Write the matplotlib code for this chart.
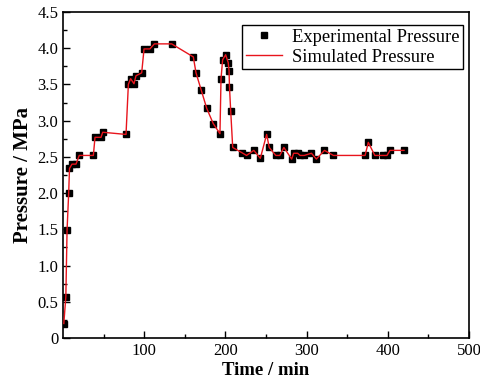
import matplotlib
matplotlib.use("Agg")
import matplotlib.pyplot as plt
from matplotlib.ticker import MultipleLocator, FixedLocator, FuncFormatter

plt.rcParams['font.family'] = ['Liberation Serif', 'DejaVu Serif']

time_min = [1, 3.5, 5, 7, 8, 11, 16, 20, 37.4, 39.4, 46.8, 48.9, 77.6, 80.5, 83.3, 87.4, 89.9,
            96.9, 99.8, 107, 112.5, 133.8, 160.5, 163.8, 170, 177, 185, 193.3, 194.6, 196.6,
            200.3, 203.5, 204.5, 205, 206.5, 209, 220, 226, 235, 243, 250.8, 254, 262, 267,
            272, 281.6, 284, 289, 292, 297, 306, 312, 322, 333, 372, 376, 384, 394.5, 399,
            402.7, 420]
pressure = [0.20, 0.57, 1.49, 2.00, 2.34, 2.40, 2.40, 2.52, 2.52, 2.77, 2.77, 2.84, 2.81, 3.50,
            3.58, 3.51, 3.62, 3.66, 3.99, 3.99, 4.06, 4.06, 3.88, 3.66, 3.43, 3.17, 2.96, 2.82,
            3.58, 3.84, 3.91, 3.80, 3.69, 3.47, 3.14, 2.63, 2.56, 2.52, 2.59, 2.48, 2.81, 2.63,
            2.52, 2.52, 2.63, 2.47, 2.55, 2.55, 2.52, 2.52, 2.55, 2.47, 2.59, 2.52, 2.52, 2.70,
            2.52, 2.52, 2.52, 2.59, 2.59]
sim_time = time_min
sim_pressure = pressure

fig = plt.figure(figsize=(4.81, 3.84), dpi=100)
ax = fig.add_axes([63/481, 1-338/384, (469-63)/481, (338-12)/384])

ax.plot(time_min, pressure, 's', color='black', markersize=5, linestyle='none',
        label='Experimental Pressure', zorder=2)
ax.plot(sim_time, sim_pressure, '-', color='#e8141c', linewidth=1.0,
        label='Simulated Pressure', zorder=3)

ax.set_xlim(0, 500)
ax.set_ylim(0, 4.5)
ax.xaxis.set_major_locator(FixedLocator([100, 200, 300, 400, 500]))
ax.xaxis.set_minor_locator(FixedLocator([50, 150, 250, 350, 450]))
ax.yaxis.set_major_locator(MultipleLocator(0.5))
ax.yaxis.set_minor_locator(MultipleLocator(0.25))
ax.yaxis.set_major_formatter(FuncFormatter(lambda v, p: '0' if abs(v) < 1e-9 else f'{v:.1f}'))
ax.tick_params(axis='both', which='major', direction='in', length=5, width=1,
               labelsize=12, top=False, right=False)
ax.tick_params(axis='both', which='minor', direction='in', length=3, width=1,
               top=False, right=False)
for s in ax.spines.values():
    s.set_linewidth(1.2)

ax.set_xlabel('Time / min', fontsize=13.5, fontweight='bold', labelpad=2)
ax.set_ylabel('Pressure / MPa', fontsize=15, fontweight='bold', labelpad=3)

leg = ax.legend(loc='upper right', bbox_to_anchor=(0.985, 0.96), fontsize=13.3, frameon=True,
                fancybox=False, edgecolor='black', framealpha=1, handlelength=2.0,
                borderpad=0.2, labelspacing=0.15, handletextpad=0.5, borderaxespad=0)
leg.get_frame().set_linewidth(1.0)

fig.savefig('out.png', dpi=100)
